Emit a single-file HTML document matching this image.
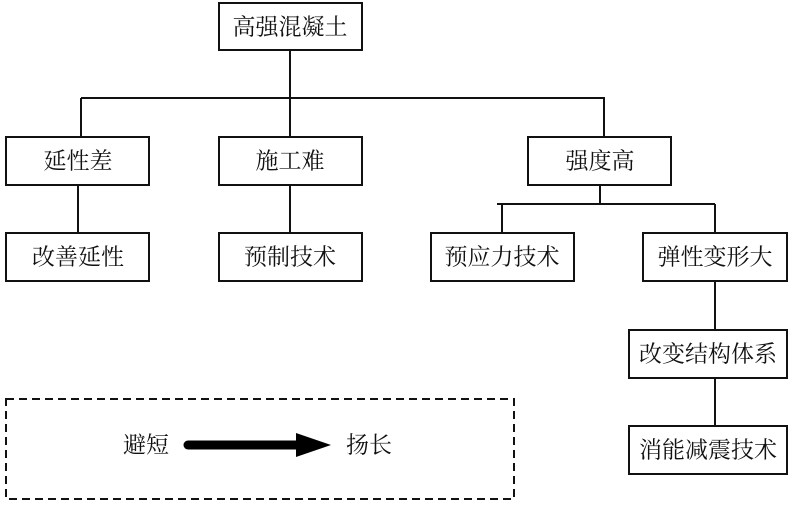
<!DOCTYPE html>
<html><head><meta charset="utf-8"><style>
html,body{margin:0;padding:0;background:#fff;}
svg text{font-family:"Liberation Serif","Noto Serif CJK SC","Noto Sans CJK SC",serif;font-size:23px;fill:#111;text-anchor:middle;dominant-baseline:central;}
</style></head><body>
<svg width="793" height="504" viewBox="0 0 793 504" xmlns="http://www.w3.org/2000/svg">
<g stroke="#111" stroke-width="2" fill="#fff">
<path d="M290 50V137M81 98H604V137M81 98V137M78 185V233M290 185V233M600 185V204M497 204H715M502 204V233M715 204V233M715 281V330M715 378V426" fill="none"/>
<rect x="219" y="3" width="143" height="47"/>
<rect x="6" y="137" width="143" height="48"/>
<rect x="219" y="137" width="143" height="48"/>
<rect x="528" y="137" width="143" height="48"/>
<rect x="6" y="233" width="143" height="48"/>
<rect x="219" y="233" width="143" height="48"/>
<rect x="431" y="233" width="143" height="48"/>
<rect x="643" y="233" width="144" height="48"/>
<rect x="629" y="330" width="158" height="48"/>
<rect x="629" y="426" width="158" height="48"/>
<rect x="6" y="399" width="508" height="100" stroke-dasharray="8,5"/>
</g>
<text x="290" y="27">高强混凝土</text>
<text x="78" y="161">延性差</text>
<text x="290" y="161">施工难</text>
<text x="600" y="161">强度高</text>
<text x="78" y="257">改善延性</text>
<text x="290" y="257">预制技术</text>
<text x="502" y="257">预应力技术</text>
<text x="715" y="257">弹性变形大</text>
<text x="708" y="354">改变结构体系</text>
<text x="708" y="450">消能减震技术</text>
<text x="146" y="445">避短</text>
<text x="369" y="445">扬长</text>
<line x1="188" y1="445" x2="300" y2="445" stroke="#000" stroke-width="9" stroke-linecap="round"/>
<polygon points="296,433 331,445 296,457" fill="#000"/>
</svg>
</body></html>
